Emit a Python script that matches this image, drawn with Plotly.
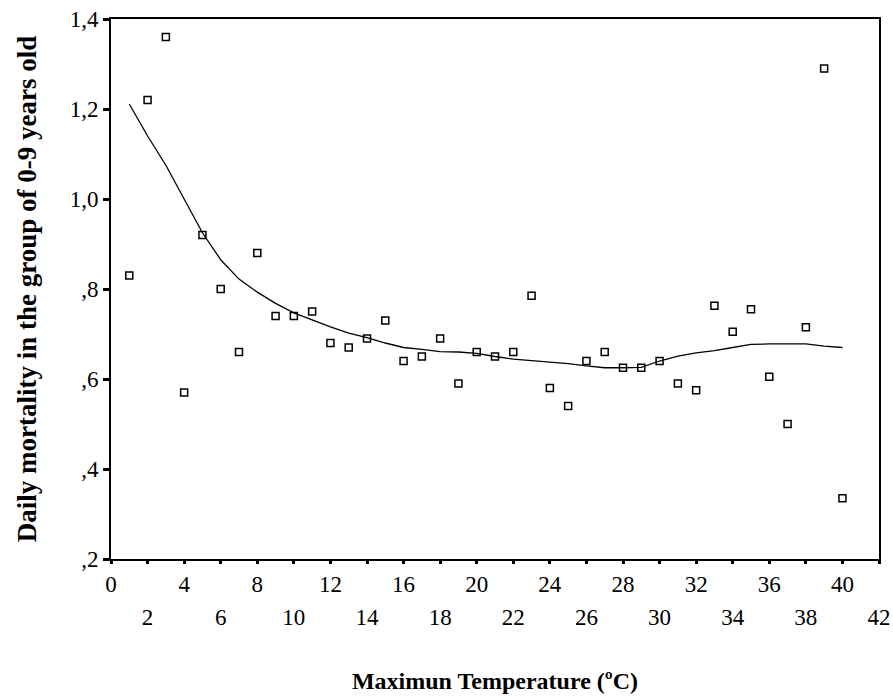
import plotly.graph_objects as go

# Observed data: temperature (x) and daily mortality (y)
temperature = list(range(1, 41))
mortality = [0.83, 1.22, 1.36, 0.57, 0.92, 0.80, 0.66, 0.88, 0.74, 0.74,
             0.75, 0.68, 0.67, 0.69, 0.73, 0.64, 0.65, 0.69, 0.59, 0.66,
             0.65, 0.66, 0.785, 0.58, 0.54, 0.64, 0.66, 0.625, 0.625, 0.64,
             0.59, 0.575, 0.763, 0.705, 0.755, 0.605, 0.50, 0.715, 1.29, 0.335]

# Smoothed (loess-like) curve
smooth_x = list(range(1, 41))
smooth_y = [1.211, 1.14, 1.075, 1.0, 0.925, 0.865, 0.822, 0.793, 0.768, 0.747,
            0.731, 0.716, 0.702, 0.692, 0.680, 0.670, 0.666, 0.661, 0.660, 0.657,
            0.650, 0.644, 0.641, 0.638, 0.634, 0.629, 0.625, 0.625, 0.626, 0.640,
            0.651, 0.658, 0.663, 0.670, 0.677, 0.678, 0.678, 0.678, 0.673, 0.670]

x_tick_vals = list(range(0, 44, 2))
x_upper_vals = list(range(0, 44, 4))      # labels on first row
x_lower_vals = list(range(2, 44, 4))      # labels on second row
y_tick_vals = [0.2, 0.4, 0.6, 0.8, 1.0, 1.2, 1.4]
y_tick_text = [",2", ",4", ",6", ",8", "1,0", "1,2", "1,4"]

serif = "Liberation Serif, Times New Roman, serif"

fig = go.Figure()
fig.add_trace(go.Scatter(
    x=smooth_x, y=smooth_y, mode="lines", xaxis="x2",
    line=dict(color="black", width=1.3),
    showlegend=False, hoverinfo="skip"))
fig.add_trace(go.Scatter(
    x=temperature, y=mortality, mode="markers",
    marker=dict(symbol="square-open", size=7, color="black",
                line=dict(color="black", width=1.5)),
    showlegend=False))

fig.update_layout(
    width=893, height=700,
    margin=dict(l=111, r=14, t=19, b=141),
    paper_bgcolor="white", plot_bgcolor="white",
    font=dict(family=serif, color="black", size=23),
    xaxis=dict(
        range=[0, 42], tickmode="array", tickvals=x_tick_vals,
        ticktext=[str(v) if v in x_upper_vals else "" for v in x_tick_vals],
        showgrid=False, zeroline=False, showline=True, linecolor="black",
        linewidth=2, mirror=True, ticks="outside", ticklen=3, tickwidth=3,
        tickcolor="black", tickfont=dict(family=serif, size=23),
        automargin=False,
        title=dict(text="<b>Maximun Temperature (ºC)</b>",
                   font=dict(family=serif, size=24), standoff=77),
    ),
    xaxis2=dict(
        range=[0, 42], overlaying="x", anchor="y", side="bottom", matches="x",
        tickmode="array", tickvals=x_lower_vals,
        ticktext=[str(v) for v in x_lower_vals],
        showgrid=False, zeroline=False, showline=False,
        ticks="outside", ticklen=3, tickwidth=3, tickcolor="black",
        tickfont=dict(family=serif, size=23), ticklabelstandoff=34,
        automargin=False,
    ),
    yaxis=dict(
        range=[0.2, 1.4], tickmode="array", tickvals=y_tick_vals, ticktext=y_tick_text,
        showgrid=False, zeroline=False, showline=True, linecolor="black",
        linewidth=2, mirror=True, ticks="outside", ticklen=6, tickwidth=3,
        tickcolor="black", tickfont=dict(family=serif, size=23),
        automargin=False, ticklabelstandoff=0,
        title=dict(text="<b>Daily mortality in the group of 0-9 years old</b>",
                   font=dict(family=serif, size=27), standoff=25),
    ),
)

fig.write_html("out.html", config={"displayModeBar": False},
               post_script="document.body.style.margin='0';document.body.style.overflow='hidden';")
